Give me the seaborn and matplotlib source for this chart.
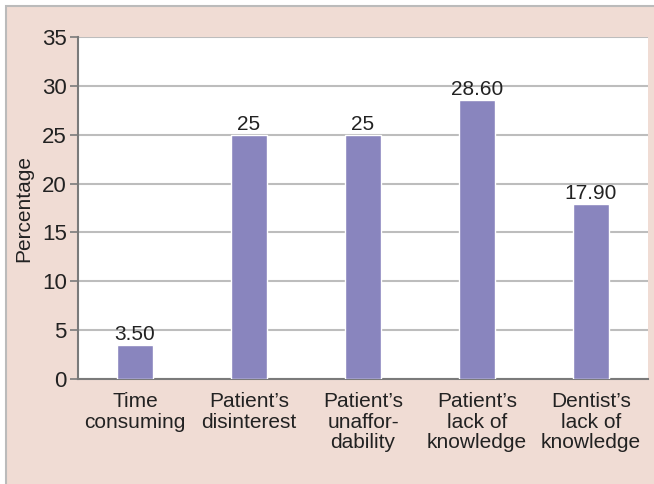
import matplotlib.pyplot as plt
import matplotlib.patches as mpatches
import seaborn as sns
import pandas as pd

# Reasons and percentages
reasons = ['Time\nconsuming', 'Patient\u2019s\ndisinterest', 'Patient\u2019s\nunaffor-\ndability',
           'Patient\u2019s\nlack of\nknowledge', 'Dentist\u2019s\nlack of\nknowledge']
percentages = [3.5, 25, 25, 28.6, 17.9]
bar_labels = ['3.50', '25', '25', '28.60', '17.90']

df = pd.DataFrame({'Reason': reasons, 'Percentage': percentages})

sns.set_style('white')
plt.rcParams['font.family'] = ['Liberation Sans', 'DejaVu Sans']

fig = plt.figure(figsize=(6.54, 4.84), dpi=100)
fig.patch.set_facecolor('white')

# pink panel behind the chart
panel = mpatches.Rectangle((6 / 654, -0.01), 1, 1.01 - 6 / 484, transform=fig.transFigure,
                           facecolor='#f0dcd4', edgecolor='#bbbbbb', linewidth=1.5, zorder=-10)
fig.patches.append(panel)

ax = fig.add_axes([78 / 654, 1 - 379 / 484, 570 / 654, 342 / 484])
ax.set_zorder(1)
ax.set_facecolor('white')

sns.barplot(data=df, x='Reason', y='Percentage', color='#8985be', saturation=1,
            width=0.31, ax=ax, zorder=3)

for i, (v, lab) in enumerate(zip(percentages, bar_labels)):
    ax.text(i, v + 0.1, lab, ha='center', va='bottom', fontsize=15, color='#222222', zorder=4)

ax.set_ylim(0, 35)
ax.set_xlim(-0.5, 4.5)
ax.set_yticks(range(0, 36, 5))
ax.yaxis.grid(True, color='#bdbdbd', linewidth=1.5, zorder=0)
ax.set_axisbelow(True)

for s in ['top', 'right']:
    ax.spines[s].set_visible(False)
for s in ['left', 'bottom']:
    ax.spines[s].set_color('#7a7a7a')
    ax.spines[s].set_linewidth(1.5)

ax.tick_params(axis='y', which='both', left=True, length=6, width=1.2, color='#7a7a7a',
               labelsize=16, labelcolor='#222222', pad=2)
ax.tick_params(axis='x', bottom=False, labelsize=15, labelcolor='#222222', pad=6)
for t in ax.get_xticklabels():
    t.set_linespacing(1.1)

ax.set_xlabel('')
ax.set_ylabel('Percentage', fontsize=15, color='#222222', labelpad=6)

plt.savefig('out.png', dpi=100)
print('done')
